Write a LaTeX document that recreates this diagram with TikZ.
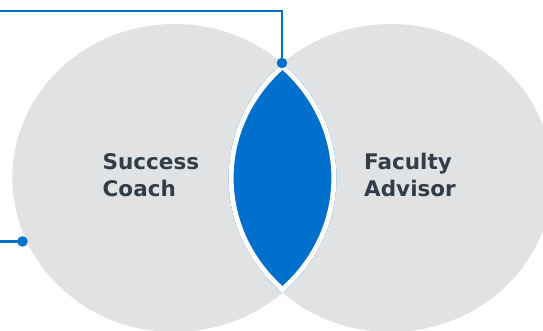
\documentclass[tikz,border=0pt]{standalone}
\usepackage{fontspec}
\setmainfont{DejaVu Sans}
\usepackage{tikz}

\definecolor{ringgray}{HTML}{E1E2E4}
\definecolor{lensblue}{HTML}{0070CC}
\definecolor{labelgray}{HTML}{333D47}

\tikzset{
  link/.style={draw=lensblue, line width=2.2pt},
  dot/.style={circle, fill=lensblue, inner sep=0pt, minimum size=10.5pt},
  label/.style={align=left, anchor=base west, inner sep=0pt, text=labelgray,
    font=\fontsize{21.5}{27.5}\selectfont\bfseries}
}

\begin{document}
\begin{tikzpicture}[x=1pt,y=1pt]
\useasboundingbox (0,0) rectangle (543,331);
\clip (0,0) rectangle (543,331);
% the two rings
\fill[ringgray] (174.4,153) ellipse [x radius=162, y radius=154];
\fill[ringgray] (390.6,153) ellipse [x radius=162, y radius=154];
% overlap
\begin{scope}
\clip (174.4,153) ellipse [x radius=162, y radius=154];
\clip (390.6,153) ellipse [x radius=162, y radius=154];
\fill[lensblue] (0,0) rectangle (543,331);
\draw[white, line width=10pt] (174.4,153) ellipse [x radius=162, y radius=154];
\draw[white, line width=10pt] (390.6,153) ellipse [x radius=162, y radius=154];
\end{scope}
% callout lines
\coordinate (topstart) at (0,320);
\coordinate (botstart) at (0,89.5);
\node[dot] (topdot) at (282,268) {};
\node[dot] (botdot) at (22.5,89.5) {};
\draw[link] (topstart) -| (topdot.center);
\draw[link] (botstart) -- (botdot.center);
% labels
\node[label] (coach) at (102.5,134.3) {Success\\Coach};
\node[label] (advisor) at (364,134.3) {Faculty\\Advisor};
\end{tikzpicture}
\end{document}
